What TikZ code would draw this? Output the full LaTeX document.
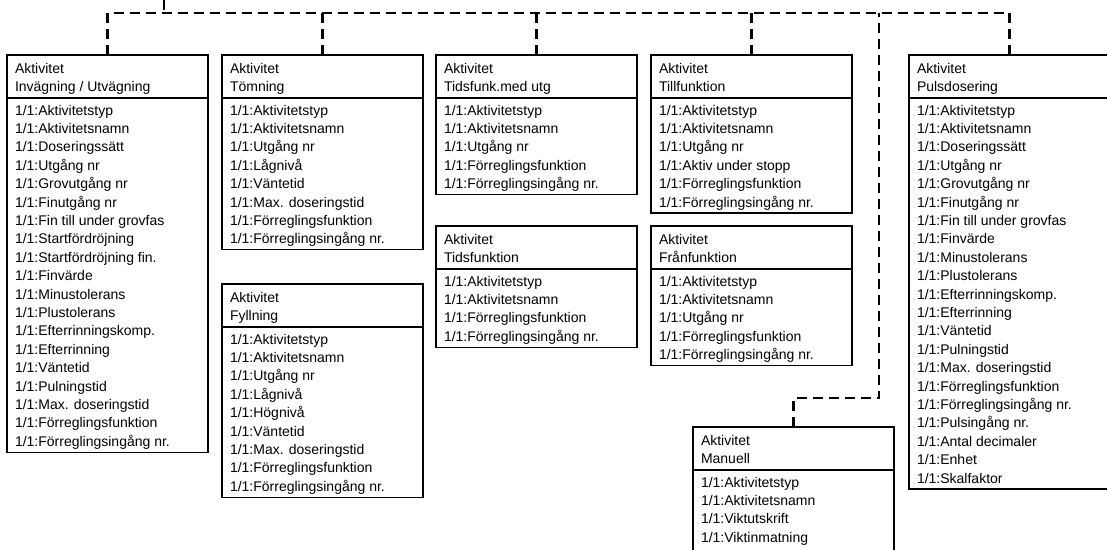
\documentclass[tikz,border=0pt]{standalone}
\usepackage{fontspec}
\setmainfont{Liberation Sans}
\tikzset{
  frame/.style={draw=black, line width=1.3pt, inner sep=0pt, outer sep=0pt},
  sepline/.style={line width=1.3pt},
  txt/.style={font=\fontsize{14}{18}\selectfont, inner sep=0pt, outer sep=0pt, anchor=base west},
  conn/.style={line width=2.6pt, dash pattern=on 10pt off 6pt},
}
% #1 name, #2 left x, #3 top y, #4 title, #5 rows for frame height, #6 rows
\newcommand{\actbox}[6]{%
  \pgfmathsetmacro{\boxh}{55+(#5-1)*18.4+11}%
  \node[frame, anchor=north west, minimum width=201pt, minimum height=\boxh pt] (#1) at (#2,#3) {};
  \draw[sepline] ({#2},{#3+43}) -- ({#2+201},{#3+43});
  \node[txt] (#1-a) at ({#2+8},{#3+18}) {Aktivitet};
  \node[txt] (#1-b) at ({#2+8},{#3+36}) {#4};
  \foreach \r [count=\i from 0] in {#6} {
    \node[txt] (#1-r\i) at ({#2+8},{#3+60+\i*18.4}) {1/1:\r};
  }
}
\begin{document}
\begin{tikzpicture}[x=1pt,y=-1pt]
\useasboundingbox (0,0) rectangle (1107,549);

\actbox{inv}{7}{55}{Invägning / Utvägning}{19}{Aktivitetstyp,Aktivitetsnamn,Doseringssätt,Utgång nr,Grovutgång nr,Finutgång nr,Fin till under grovfas,Startfördröjning,Startfördröjning fin.,Finvärde,Minustolerans,Plustolerans,Efterrinningskomp.,Efterrinning,Väntetid,Pulningstid,Max. doseringstid,Förreglingsfunktion,Förreglingsingång nr.}

\actbox{tom}{222}{55}{Tömning}{8}{Aktivitetstyp,Aktivitetsnamn,Utgång nr,Lågnivå,Väntetid,Max. doseringstid,Förreglingsfunktion,Förreglingsingång nr.}

\actbox{fyl}{222}{284}{Fyllning}{9}{Aktivitetstyp,Aktivitetsnamn,Utgång nr,Lågnivå,Högnivå,Väntetid,Max. doseringstid,Förreglingsfunktion,Förreglingsingång nr.}

\actbox{tfu}{436}{55}{Tidsfunk.med utg}{5}{Aktivitetstyp,Aktivitetsnamn,Utgång nr,Förreglingsfunktion,Förreglingsingång nr.}

\actbox{tid}{436}{226}{Tidsfunktion}{4}{Aktivitetstyp,Aktivitetsnamn,Förreglingsfunktion,Förreglingsingång nr.}

\actbox{till}{651}{55}{Tillfunktion}{6}{Aktivitetstyp,Aktivitetsnamn,Utgång nr,Aktiv under stopp,Förreglingsfunktion,Förreglingsingång nr.}

\actbox{fran}{651}{226}{Frånfunktion}{5}{Aktivitetstyp,Aktivitetsnamn,Utgång nr,Förreglingsfunktion,Förreglingsingång nr.}

\actbox{man}{693}{427}{Manuell}{5}{Aktivitetstyp,Aktivitetsnamn,Viktutskrift,Viktinmatning}

\actbox{puls}{909}{55}{Pulsdosering}{21}{Aktivitetstyp,Aktivitetsnamn,Doseringssätt,Utgång nr,Grovutgång nr,Finutgång nr,Fin till under grovfas,Finvärde,Minustolerans,Plustolerans,Efterrinningskomp.,Efterrinning,Väntetid,Pulningstid,Max. doseringstid,Förreglingsfunktion,Förreglingsingång nr.,Pulsingång nr.,Antal decimaler,Enhet,Skalfaktor}

% connectors
\coordinate (top) at (164,0);
\coordinate (bus) at (164,13);
\coordinate (mv) at (879,398);
\draw[conn] (top) -- (bus);
\draw[conn] (inv.north) |- (bus) -| (puls.north);
\draw[conn] (tom.north) -- (tom.north |- bus);
\draw[conn] (tfu.north) -- (tfu.north |- bus);
\draw[conn] (till.north) -- (till.north |- bus);
\draw[conn] (man.north) |- (mv) -- (mv |- bus);
\end{tikzpicture}
\end{document}
